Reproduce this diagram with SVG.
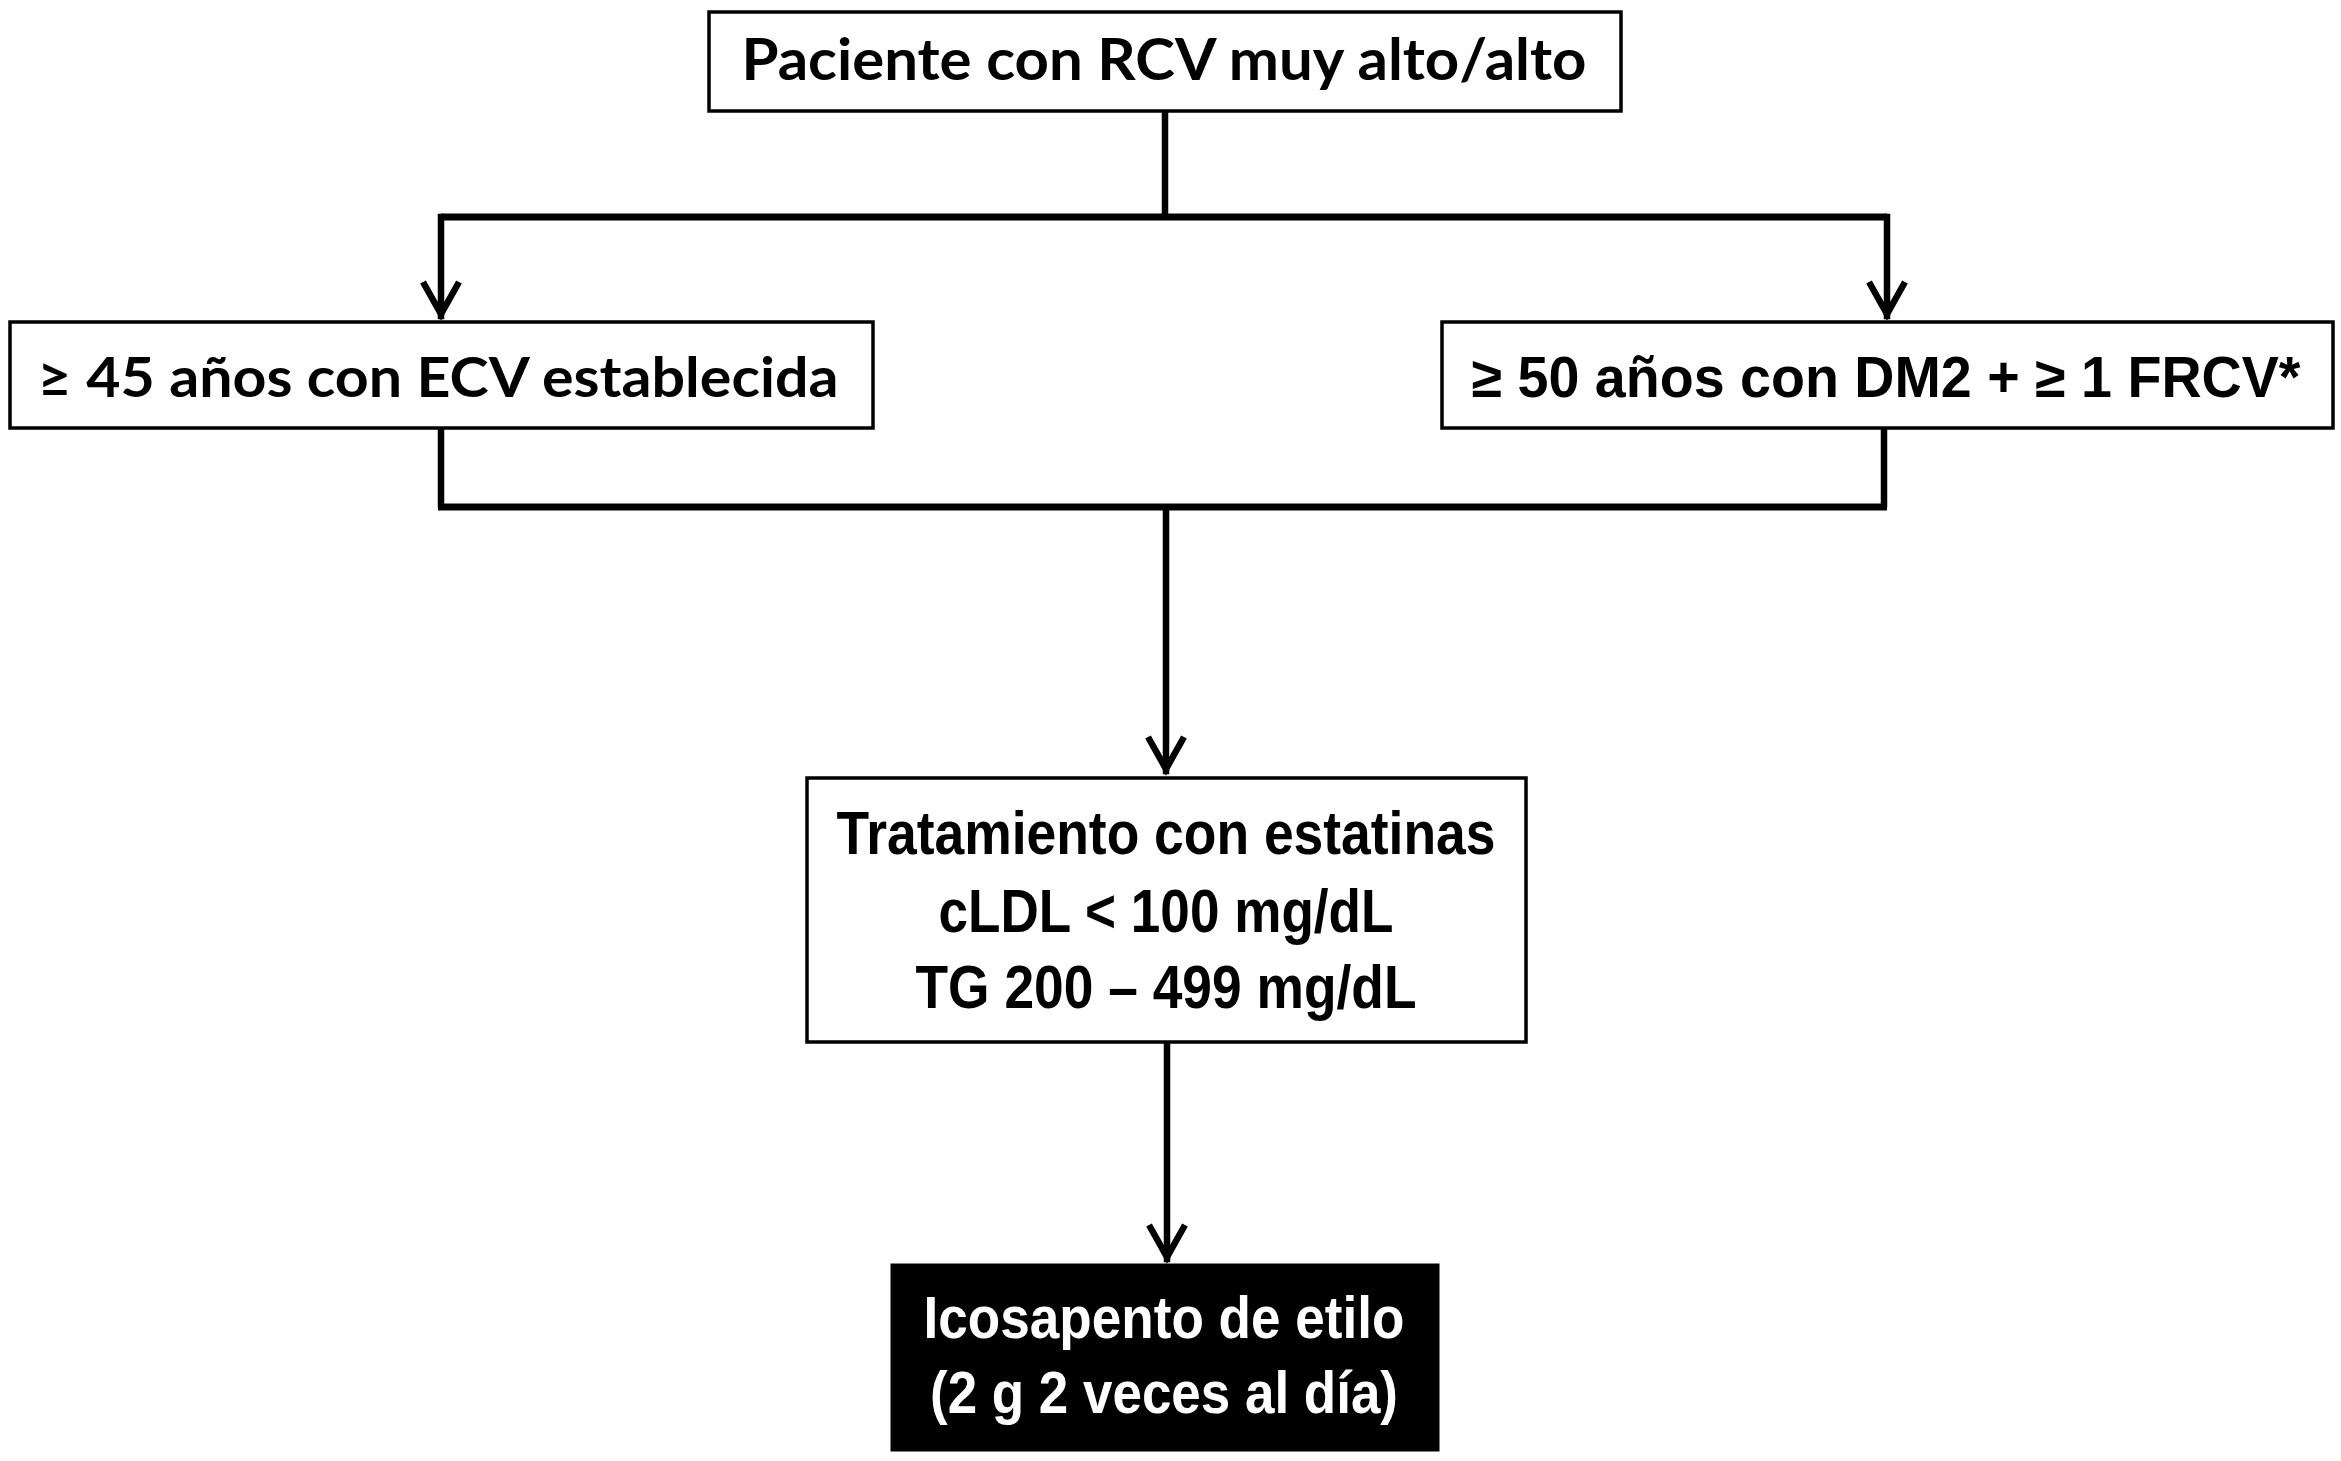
<svg xmlns="http://www.w3.org/2000/svg" width="2341" height="1461" viewBox="0 0 2341 1461">
<defs>
<style>
.box{fill:#fff;stroke:#000;stroke-width:3.5}
.dark{fill:#000;stroke:#000;stroke-width:3}
.cal{font-family:Lato,"Open Sans","Liberation Sans",sans-serif;font-weight:700;fill:#000;text-anchor:middle}
.ari{font-family:"Liberation Sans",Arial,sans-serif;font-weight:700;fill:#000;text-anchor:middle}
.wht{fill:#fff}
.ln{fill:none;stroke:#000;stroke-width:6.5;stroke-linecap:square}
.hz{fill:none;stroke:#000;stroke-width:7}
</style>
<marker id="arr" markerUnits="userSpaceOnUse" viewBox="-40 -26 46 52" markerWidth="46" markerHeight="52" refX="0" refY="0" orient="auto">
<path d="M-34,-18 L-2,0 L-34,18" fill="none" stroke="#000" stroke-width="6.5" stroke-linejoin="miter"/>
</marker>
</defs>
<rect width="2341" height="1461" fill="#fff"/>
<g id="connectors">
<path class="ln" d="M1165,111 V214"/>
<path class="hz" d="M441,217 H1887"/>
<path class="ln" d="M441,217 V316" marker-end="url(#arr)"/>
<path class="ln" d="M1887,217 V316" marker-end="url(#arr)"/>
<path class="ln" d="M441,428 V504"/>
<path class="ln" d="M1884,428 V504"/>
<path class="hz" d="M438,507 H1887"/>
<path class="ln" d="M1166,510 V771" marker-end="url(#arr)"/>
<path class="ln" d="M1167,1044 V1259" marker-end="url(#arr)"/>
</g>
<g id="node-top">
<rect class="box" x="709" y="12" width="912" height="99"/>
<text class="cal" x="1164" y="80" font-size="58" textLength="845" lengthAdjust="spacingAndGlyphs">Paciente con RCV muy alto/alto</text>
</g>
<g id="node-left">
<rect class="box" x="10" y="322" width="863" height="106"/>
<text class="cal" x="438" y="397" font-size="56" textLength="801" lengthAdjust="spacingAndGlyphs">≥ 45 años con ECV establecida</text>
</g>
<g id="node-right">
<rect class="box" x="1442" y="322" width="891" height="106"/>
<text class="ari" x="1886" y="397" font-size="57" textLength="829" lengthAdjust="spacingAndGlyphs">≥ 50 años con DM2 + ≥ 1 FRCV*</text>
</g>
<g id="node-mid">
<rect class="box" x="807" y="778" width="719" height="264"/>
<text class="ari" x="1166" y="854" font-size="61" textLength="659" lengthAdjust="spacingAndGlyphs">Tratamiento con estatinas</text>
<text class="ari" x="1166" y="932" font-size="61" textLength="455" lengthAdjust="spacingAndGlyphs">cLDL &lt; 100 mg/dL</text>
<text class="ari" x="1166" y="1008" font-size="61" textLength="501" lengthAdjust="spacingAndGlyphs">TG 200 – 499 mg/dL</text>
</g>
<g id="node-bottom">
<rect class="dark" x="892" y="1265" width="546" height="185"/>
<text class="ari wht" x="1164" y="1338" font-size="60" textLength="481" lengthAdjust="spacingAndGlyphs">Icosapento de etilo</text>
<text class="ari wht" x="1164" y="1413" font-size="60" textLength="468" lengthAdjust="spacingAndGlyphs">(2 g 2 veces al día)</text>
</g>
</svg>
